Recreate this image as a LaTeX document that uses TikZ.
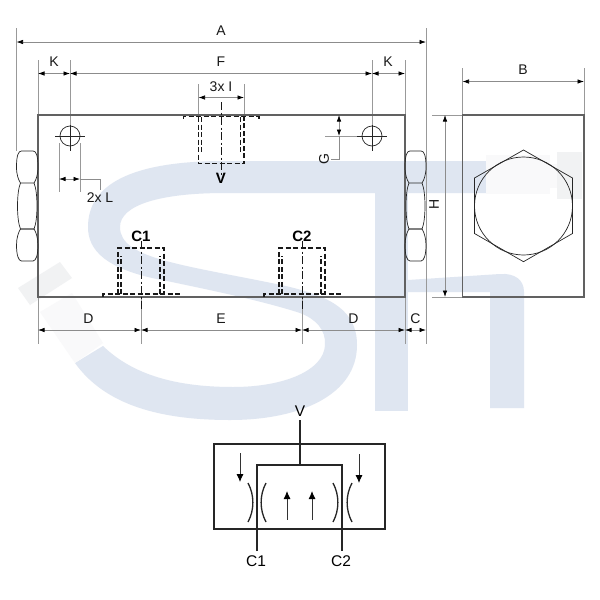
\documentclass[tikz,border=0pt]{standalone}
\usepackage{fontspec}
\setmainfont{Liberation Sans}
\usetikzlibrary{arrows.meta}
\definecolor{wm}{HTML}{DFE6F1}
\definecolor{boltA}{HTML}{F9F9FA}
\definecolor{boltB}{HTML}{F1F2F3}
\tikzset{
  dimline/.style={draw=black!45,line width=0.7pt},
  dimarrow/.style={dimline,{Latex[length=6.5pt,width=4.5pt,black]}-{Latex[length=6.5pt,width=4.5pt,black]}},
  ext/.style={draw=black!40,line width=0.6pt},
  body/.style={draw=black!62,line width=1.1pt},
  thin part/.style={draw=black!85,line width=0.7pt},
  hidden/.style={draw=black!90,line width=1.2pt,dash pattern=on 5pt off 2.5pt},
  centre/.style={draw=black!90,line width=1pt,dash pattern=on 8pt off 2.5pt on 2pt off 2.5pt},
  schem/.style={draw=black!85,line width=1.3pt},
  flowarrow/.style={draw=black!80,line width=0.9pt,{Latex[length=8pt,width=7pt,black]}-},
  lab/.style={font=\fontsize{14}{14}\selectfont,inner sep=0pt,text=black!90},
  blab/.style={font=\fontsize{15}{15}\selectfont\bfseries,inner sep=0pt},
  slab/.style={font=\fontsize{15.5}{15.5}\selectfont,inner sep=0pt},
}
\begin{document}
\begin{tikzpicture}[x=1pt,y=-1pt]
\useasboundingbox (0,0) rectangle (600,600);
\fill[white] (0,0) rectangle (600,600);
% watermark S
\fill[wm] (490,161) -- (225,161) .. controls (130,161) and (88,185) .. (88,227)
  .. controls (88,250) and (105,270) .. (167,281)
  .. controls (200,288) and (260,300) .. (300,313)
  .. controls (316,319) and (326,330) .. (325,345)
  .. controls (324,370) and (285,387) .. (233,387)
  .. controls (170,387) and (130,372) .. (103,346)
  -- (75,363) .. controls (105,405) and (160,420) .. (230,420)
  .. controls (300,420) and (357,395) .. (357,345)
  .. controls (357,310) and (330,297) .. (290,287)
  .. controls (255,279) and (200,270) .. (170,262)
  .. controls (135,253) and (120,243) .. (120,227)
  .. controls (120,205) and (160,193) .. (225,193)
  -- (490,193) -- cycle;
% watermark n
\fill[wm] (375,161) rectangle (408,411);
\fill[wm] (408,280) -- (500,274) .. controls (515,273) and (524,280) .. (524,292)
  -- (524,408) -- (490,408) -- (490,292) -- (408,292) -- cycle;
% faded bolts
\fill[boltB] (18,288) -- (60,262) -- (72,278) -- (30,305) -- cycle;
\fill[boltA] (40,312) -- (72,293) -- (103,343) -- (75,363) -- cycle;
\fill[boltA] (486,155) rectangle (550,194);
\fill[boltA] (550,164) rectangle (557,188);
\fill[boltB] (557,152) rectangle (582,199);
% extension lines
\draw[ext] (16.5,28) -- (16.5,151);
\draw[ext] (426,28) -- (426,344);
\draw[ext] (38,60) -- (38,115);
\draw[ext] (70,60) -- (70,151);
\draw[ext] (372,60) -- (372,151);
\draw[ext] (405,60) -- (405,115);
\draw[ext] (38,297) -- (38,344);
\draw[ext] (141,297) -- (141,344);
\draw[ext] (302,297) -- (302,344);
\draw[ext] (405,297) -- (405,344);
\draw[ext] (462.5,68) -- (462.5,115);
\draw[ext] (584,68) -- (584,115);
\draw[ext] (432,115) -- (462,115);
\draw[ext] (432,297) -- (462,297);
\draw[ext] (198.5,84) -- (198.5,115);
\draw[ext] (244,84) -- (244,115);
\draw[ext] (325,136) -- (357,136);
\draw[ext] (59,143) -- (59,192);
\draw[ext] (80,143) -- (80,192);
% blocks
\draw[body] (38,297) -- (38,115) -- (405,115) -- (405,297) -- cycle;
\draw[body] (462.5,115) rectangle (584,297);
% nuts
\foreach \xa/\xb in {16.5/38,405/426}{
  \draw[thin part] (\xa+5,151) -- (\xb-5,151) .. controls (\xb-2,151) and (\xb,155) .. (\xb,167)
     .. controls (\xb,175) and (\xb-2,180) .. (\xb-4,183) -- (\xa+4,183)
     .. controls (\xa+2,180) and (\xa,175) .. (\xa,167) .. controls (\xa,155) and (\xa+2,151) .. (\xa+5,151) -- cycle;
  \draw[thin part] (\xa+4,183) .. controls (\xa,192) and (\xa,220) .. (\xa+4,229) -- (\xb-4,229)
     .. controls (\xb,220) and (\xb,192) .. (\xb-4,183);
  \draw[thin part] (\xa+4,229) -- (\xb-4,229) .. controls (\xb-2,232) and (\xb,238) .. (\xb,245)
     .. controls (\xb,255) and (\xb-2,261) .. (\xb-5,261) -- (\xa+5,261)
     .. controls (\xa+2,261) and (\xa,255) .. (\xa,245) .. controls (\xa,238) and (\xa+2,232) .. (\xa+4,229);
}
% right end view
\draw[thin part] (523.5,150) -- (572.5,178) -- (572.5,233.5) -- (523.5,261.7) -- (474.5,233.5) -- (474.5,178) -- cycle;
\draw[thin part] (523.5,206) circle[radius=49];
% mounting holes
\foreach \cx in {70,372}{
  \draw[thin part] (\cx,136) circle[radius=10];
  \draw[thin part] (\cx-15,136) -- (\cx+15,136);
  \draw[thin part] (\cx,125) -- (\cx,151);
}
% ports
\draw[hidden] (183.5,119) -- (183.5,116.5) -- (259,116.5) -- (259,119);
\draw[hidden] (198.5,117) -- (198.5,163.5) -- (244,163.5) -- (244,117);
\draw[hidden] (201.5,117) -- (201.5,153);
\draw[hidden] (240.5,117) -- (240.5,153);
\draw[centre] (221,102) -- (221,176);
\foreach \cx in {141,302}{
  \draw[hidden] (\cx-38,297) -- (\cx-38,294) -- (\cx+38,294) -- (\cx+38,297);
  \draw[hidden] (\cx-23,294) -- (\cx-23,248) -- (\cx+23,248) -- (\cx+23,294);
  \draw[hidden] (\cx-20,294) -- (\cx-20,256);
  \draw[hidden] (\cx+19,294) -- (\cx+19,256);
  \draw[centre] (\cx,241) -- (\cx,310);
}
% dimension arrows
\draw[dimarrow] (16.5,42) -- (426,42);
\draw[dimarrow] (38,73.5) -- (70,73.5);
\draw[dimarrow] (70,73.5) -- (372,73.5);
\draw[dimarrow] (372,73.5) -- (405,73.5);
\draw[dimarrow] (198.5,97.5) -- (244,97.5);
\draw[dimarrow] (462.5,81.5) -- (584,81.5);
\draw[dimarrow] (38,330) -- (141,330);
\draw[dimarrow] (141,330) -- (302,330);
\draw[dimarrow] (302,330) -- (405,330);
\draw[dimarrow] (405,330) -- (426,330);
\draw[dimarrow] (445,115) -- (445,297);
\draw[dimarrow] (339,115) -- (339,136);
\draw[dimline] (339,136) -- (339,159) -- (331,159);
\draw[dimarrow] (59,179) -- (80,179);
\draw[dimline] (80,179) -- (100,179) -- (100,190);
% labels
\node[lab] (tA) at (221,31) {A};
\node[lab] (tF) at (221,62) {F};
\node[lab] (tK1) at (54,62) {K};
\node[lab] (tK2) at (388,62) {K};
\node[lab] (tI) at (221,86.5) {3x I};
\node[lab] (tB) at (523,70) {B};
\node[lab,rotate=90] (tH) at (434,204) {H};
\node[lab,rotate=90] (tG) at (324,159) {G};
\node[lab] (tL) at (100,197.5) {2x L};
\node[lab] (tD1) at (88.5,319) {D};
\node[lab] (tE) at (221,319) {E};
\node[lab] (tD2) at (353.5,319) {D};
\node[lab] (tC) at (415.5,319) {C};
\node[blab] (tV) at (221,178) {V};
\node[blab] (tC1) at (141,236) {C1};
\node[blab] (tC2) at (302,236) {C2};
% schematic
\node[slab] (sV) at (300,411) {V};
\node[slab] (sC1) at (256,561) {C1};
\node[slab] (sC2) at (341,561) {C2};
\draw[schem] (214,444) rectangle (385,529);
\draw[schem] (257,551) -- (257,465) -- (342,465) -- (342,551);
\draw[schem] (300,420) -- (300,465);
\draw[flowarrow] (240,482) -- (240,453);
\draw[flowarrow] (359,483) -- (359,454);
\draw[flowarrow] (287,491) -- (287,520);
\draw[flowarrow] (312,491) -- (312,520);
\foreach \xx in {248,333}{
  \draw[schem] (\xx,483) .. controls (\xx+6.5,495) and (\xx+6.5,510) .. (\xx,522);
}
\foreach \xx in {266,352}{
  \draw[schem] (\xx,483) .. controls (\xx-6.5,495) and (\xx-6.5,510) .. (\xx,522);
}
\end{tikzpicture}
\end{document}
